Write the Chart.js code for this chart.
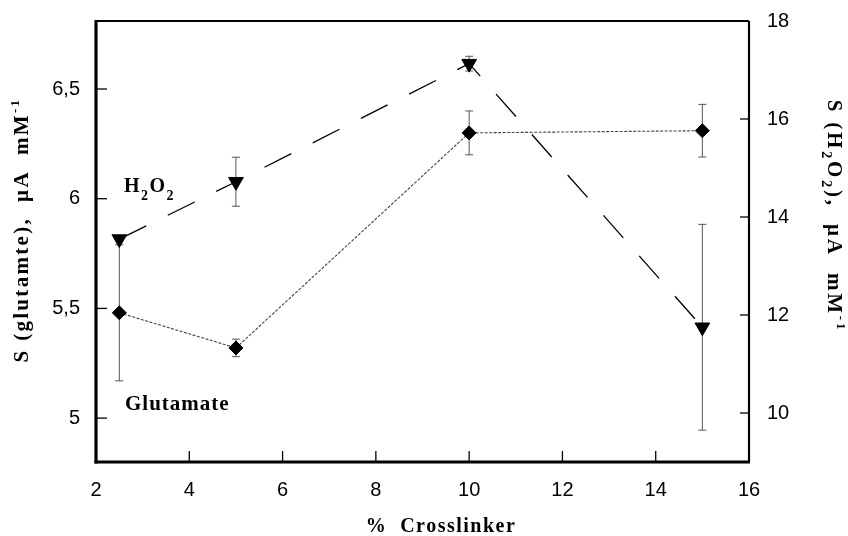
<!DOCTYPE html>
<html>
<head>
<meta charset="utf-8">
<script src="https://cdn.jsdelivr.net/npm/chart.js@4"></script>
<style>
  body { margin: 0; background: #fff; }
  #wrap { width: 848px; height: 536px; }
</style>
</head>
<body>
<div id="wrap"><canvas id="sensChart" width="848" height="536"></canvas></div>
<script>
// values
const crosslinker = [2.5, 5, 10, 15];
const glutamate = [5.48, 5.32, 6.30, 6.31];
const glutamateErr = [0.31, 0.04, 0.10, 0.12];
const h2o2 = [13.55, 14.72, 17.13, 11.75];
const h2o2Err = [0, 0.5, 0.15, 2.1];

const xTicks = [2, 4, 6, 8, 10, 12, 14, 16];
const leftTicks = [5, 5.5, 6, 6.5];
const rightTicks = [10, 12, 14, 16, 18];

const serif = "'Liberation Serif', 'Times New Roman', serif";
const tickFont = { family: "'Liberation Sans', Arial, sans-serif", size: 20 };

function line(ctx, x1, y1, x2, y2) {
  ctx.beginPath();
  ctx.moveTo(x1, y1);
  ctx.lineTo(x2, y2);
  ctx.stroke();
}

// draws text made of pieces (sub/superscripts), centred on cx
function drawRich(ctx, parts, cx, cy, angle, align, spacing) {
  ctx.save();
  ctx.translate(cx, cy);
  ctx.rotate(angle);
  ctx.letterSpacing = (spacing || 0) + 'px';
  let total = 0;
  parts.forEach(p => {
    ctx.font = 'bold ' + p.size + 'px ' + serif;
    p.w = ctx.measureText(p.t).width;
    total += p.w;
  });
  let x = align === 'left' ? 0 : -total / 2;
  ctx.fillStyle = '#000';
  ctx.textAlign = 'left';
  ctx.textBaseline = 'alphabetic';
  parts.forEach(p => {
    ctx.font = 'bold ' + p.size + 'px ' + serif;
    ctx.fillText(p.t, x, p.dy || 0);
    x += p.w;
  });
  ctx.restore();
}

const errorBars = {
  id: 'errorBars',
  beforeDatasetsDraw(chart) {
    const { ctx, scales } = chart;
    ctx.save();
    ctx.strokeStyle = '#555';
    ctx.lineWidth = 1;
    const bars = [
      { vals: glutamate, err: glutamateErr, axis: scales.y },
      { vals: h2o2, err: h2o2Err, axis: scales.y1 }
    ];
    bars.forEach(b => {
      crosslinker.forEach((c, i) => {
        if (!b.err[i]) return;
        const x = scales.x.getPixelForValue(c);
        const top = b.axis.getPixelForValue(b.vals[i] + b.err[i]);
        const bot = b.axis.getPixelForValue(b.vals[i] - b.err[i]);
        line(ctx, x, top, x, bot);
        line(ctx, x - 4, top, x + 4, top);
        line(ctx, x - 4, bot, x + 4, bot);
      });
    });
    ctx.restore();
  }
};

const frameAndText = {
  id: 'frameAndText',
  afterDraw(chart) {
    const { ctx, chartArea: a, scales } = chart;
    ctx.save();
    ctx.strokeStyle = '#000';
    ctx.lineWidth = 1.3;
    leftTicks.forEach(v => {
      const y = scales.y.getPixelForValue(v);
      line(ctx, a.left, y, a.left + 11, y);
    });
    rightTicks.forEach(v => {
      const y = scales.y1.getPixelForValue(v);
      line(ctx, a.right - 9, y, a.right, y);
    });
    xTicks.forEach(v => {
      if (v <= 2 || v >= 16) return;
      const x = scales.x.getPixelForValue(v);
      line(ctx, x, a.bottom, x, a.bottom - 11);
    });
    ctx.lineWidth = 2.2;
    line(ctx, a.left, a.top, a.right, a.top);
    line(ctx, a.right, a.top, a.right, a.bottom);
    ctx.lineWidth = 3.2;
    line(ctx, a.left, a.top - 1, a.left, a.bottom + 1.5);
    line(ctx, a.left - 1.5, a.bottom, a.right + 1, a.bottom);
    ctx.restore();

    drawRich(ctx, [
      { t: 'S (glutamte),  \u00b5A  mM', size: 21 },
      { t: '-1', size: 13, dy: -9 }
    ], 28, 230, -Math.PI / 2, 'center', 2.3);

    drawRich(ctx, [
      { t: 'S (H', size: 21 },
      { t: '2', size: 14, dy: 6 },
      { t: 'O', size: 21 },
      { t: '2', size: 14, dy: 6 },
      { t: '),  \u00b5A  mM', size: 21 },
      { t: '-1', size: 13, dy: -9 }
    ], 828, 216, Math.PI / 2, 'center', 2.8);

    drawRich(ctx, [
      { t: 'H', size: 20 },
      { t: '2', size: 14, dy: 8 },
      { t: 'O', size: 20 },
      { t: '2', size: 14, dy: 8 }
    ], 124, 192, 0, 'left', 1.5);

    drawRich(ctx, [{ t: 'Glutamate', size: 21 }], 125, 410, 0, 'left', 1);
    drawRich(ctx, [{ t: '%  Crosslinker', size: 20 }], 441, 532, 0, 'center', 1.5);
  }
};

const noPad = s => { s.paddingTop = 0; s.paddingBottom = 0; };

const ctx = document.getElementById('sensChart').getContext('2d');
const chart = new Chart(ctx, {
  type: 'line',
  data: {
    datasets: [{
      label: 'Glutamate',
      data: crosslinker.map((c, i) => ({ x: c, y: glutamate[i] })),
      yAxisID: 'y',
      borderColor: '#444',
      borderWidth: 1.1,
      borderDash: [3, 1.5],
      pointStyle: 'rectRot',
      pointRadius: 7,
      pointBackgroundColor: '#000',
      pointBorderColor: '#000',
      pointBorderWidth: 1,
      tension: 0
    }, {
      label: 'H2O2',
      data: crosslinker.map((c, i) => ({ x: c, y: h2o2[i] })),
      yAxisID: 'y1',
      borderColor: '#000',
      borderWidth: 1.3,
      borderDash: [30, 24],
      pointStyle: 'triangle',
      rotation: 180,
      pointRadius: 8.5,
      pointBackgroundColor: '#000',
      pointBorderColor: '#000',
      pointBorderWidth: 1,
      tension: 0
    }]
  },
  options: {
    responsive: false,
    animation: false,
    layout: { padding: { top: 21, left: 0, right: 0, bottom: 0 } },
    plugins: {
      legend: { display: false },
      tooltip: { enabled: false }
    },
    scales: {
      x: {
        type: 'linear',
        min: 2,
        max: 16,
        afterBuildTicks: s => { s.ticks = xTicks.map(v => ({ value: v })); },
        afterFit: s => { s.height = 74; },
        grid: { display: false, drawTicks: false },
        border: { display: false },
        ticks: { font: tickFont, color: '#000', padding: 16, maxRotation: 0 }
      },
      y: {
        position: 'left',
        min: 4.8,
        max: 6.81,
        afterBuildTicks: s => { s.ticks = leftTicks.map(v => ({ value: v })); },
        afterFit: s => { s.width = 96; noPad(s); },
        grid: { display: false, drawTicks: false },
        border: { display: false },
        ticks: {
          font: tickFont, color: '#000', padding: 16,
          callback: v => String(v).replace('.', ',')
        }
      },
      y1: {
        position: 'right',
        min: 9,
        max: 18,
        afterBuildTicks: s => { s.ticks = rightTicks.map(v => ({ value: v })); },
        afterFit: s => { s.width = 99; noPad(s); },
        grid: { display: false, drawTicks: false },
        border: { display: false },
        ticks: { font: tickFont, color: '#000', padding: 18 }
      }
    }
  },
  plugins: [errorBars, frameAndText]
});
</script>
</body>
</html>
